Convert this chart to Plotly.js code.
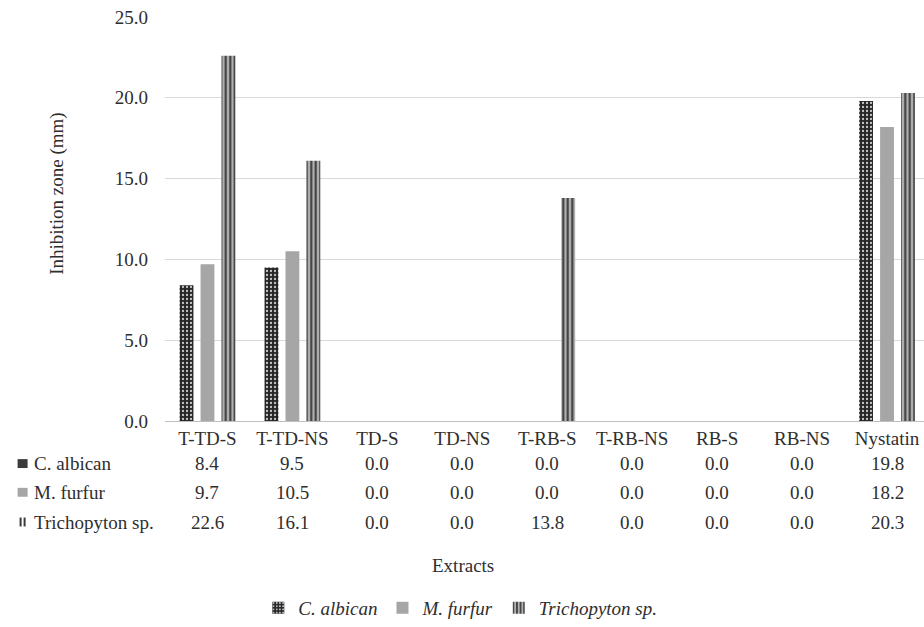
<!DOCTYPE html>
<html>
<head>
<meta charset="utf-8">
<script src="https://cdn.plot.ly/plotly-3.0.1.min.js"></script>
<style>
  html, body { margin: 0; padding: 0; background: #fff; }
  #chart { width: 924px; height: 627px; }
</style>
</head>
<body>
<div id="chart"></div>
<script>
// ---- data ----
const categories = ["T-TD-S", "T-TD-NS", "TD-S", "TD-NS", "T-RB-S", "T-RB-NS", "RB-S", "RB-NS", "Nystatin"];
const seriesNames = ["C. albican", "M. furfur", "Trichopyton sp."];
const cAlbican = [8.4, 9.5, 0.0, 0.0, 0.0, 0.0, 0.0, 0.0, 19.8];
const mFurfur = [9.7, 10.5, 0.0, 0.0, 0.0, 0.0, 0.0, 0.0, 18.2];
const trichopyton = [22.6, 16.1, 0.0, 0.0, 13.8, 0.0, 0.0, 0.0, 20.3];
const yTicks = [0, 5, 10, 15, 20, 25];

// ---- layout constants (pixels) ----
const W = 924, H = 627;
const mL = 164.5, mR = 0, mT = 17, mB = 202;
const plotW = W - mL - mR, plotH = H - mT - mB;
const px2x = p => (p - mL) / plotW;
const py2y = p => (H - mB - p) / plotH;

const FONT = "Liberation Serif";
const TXT = "#2e2e2e";
const FS = 19;

const styles = [
  { color: "#2b2b2b", pattern: { shape: ".", bgcolor: "#262626", fgcolor: "#c8c8c8", size: 4, solidity: 0.25 } },
  { color: "#a6a6a6", pattern: { shape: "" } },
  { color: "#a6a6a6", pattern: { shape: "|", bgcolor: "#b0b0b0", fgcolor: "#3a3a3a", size: 4.5, solidity: 0.45 } }
];
const values = [cAlbican, mFurfur, trichopyton];

const traces = values.map((v, i) => ({
  type: "bar",
  name: seriesNames[i],
  x: categories,
  y: v,
  marker: { color: styles[i].color, pattern: styles[i].pattern, line: { width: 0 } },
  hoverinfo: "x+y+name"
}));

// data table below axis
const rowY = [468, 497, 527];
const annotations = [];
values.forEach((v, r) => {
  v.forEach((val, c) => {
    annotations.push({
      xref: "x", yref: "paper", x: categories[c], y: py2y(rowY[r]),
      text: val.toFixed(1), showarrow: false, xanchor: "center", yanchor: "middle",
      font: { family: FONT, size: FS, color: TXT }
    });
  });
  annotations.push({
    xref: "paper", yref: "paper", x: px2x(31), y: py2y(rowY[r]),
    text: seriesNames[r], showarrow: false, xanchor: "left", yanchor: "middle",
    font: { family: FONT, size: FS, color: TXT }
  });
});
// axis titles
annotations.push({
  xref: "paper", yref: "paper", x: px2x(463), y: py2y(571),
  text: "Extracts", showarrow: false, xanchor: "center", yanchor: "middle",
  font: { family: FONT, size: FS, color: TXT }
});
annotations.push({
  xref: "paper", yref: "paper", x: px2x(57), y: py2y(195),
  text: "Inhibition zone (mm)", textangle: -90, showarrow: false,
  xanchor: "center", yanchor: "middle",
  font: { family: FONT, size: FS, color: TXT }
});

// legend keys in the table's row headers
const shapes = [];
const key = (x0, x1, py, color) => shapes.push({
  type: "rect", xref: "paper", yref: "paper",
  x0: px2x(x0), x1: px2x(x1), y0: py2y(py + 4.5), y1: py2y(py - 4.5),
  fillcolor: color, line: { width: 0 }
});
key(17, 27, rowY[0], "#3a3a3a");
key(17, 27, rowY[1], "#a6a6a6");
key(19, 21, rowY[2], "#3a3a3a");
key(23, 25, rowY[2], "#3a3a3a");

const layout = {
  width: W, height: H,
  margin: { l: mL, r: mR, t: mT, b: mB, pad: 0 },
  paper_bgcolor: "#fff", plot_bgcolor: "#fff",
  font: { family: FONT, size: FS, color: TXT },
  barmode: "group",
  bargap: 0.26,
  bargroupgap: 0.34,
  xaxis: {
    type: "category",
    range: [-0.5, -0.5 + plotW / 85],
    showgrid: false,
    showline: true, linecolor: "#bfbfbf", linewidth: 1,
    ticks: "", tickfont: { family: FONT, size: FS, color: TXT },
    fixedrange: true
  },
  yaxis: {
    range: [0, 25],
    tickvals: yTicks,
    tickformat: ".1f",
    showgrid: true, gridcolor: "#d9d9d9", gridwidth: 1,
    zeroline: false, showline: false,
    ticks: "", ticklabelstandoff: 16,
    tickfont: { family: FONT, size: FS, color: TXT },
    fixedrange: true
  },
  showlegend: true,
  legend: {
    orientation: "h",
    x: px2x(460), xanchor: "center",
    y: py2y(614), yanchor: "middle",
    font: { family: FONT, size: FS, color: TXT, style: "italic" },
    traceorder: "normal",
    itemwidth: 30
  },
  annotations: annotations,
  shapes: shapes
};

Plotly.newPlot("chart", traces, layout, { displayModeBar: false, staticPlot: true });
</script>
</body>
</html>
